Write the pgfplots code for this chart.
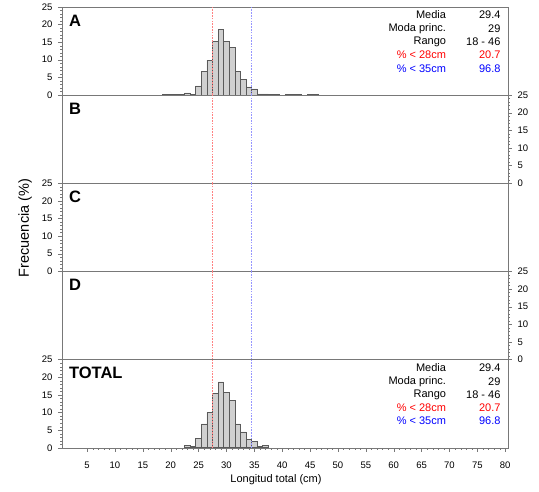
\documentclass[border=0pt]{standalone}
\usepackage{fontspec}
\setmainfont{Liberation Sans}
\usepackage{pgfplots}
\pgfplotsset{compat=1.18}
\definecolor{axgray}{RGB}{120,120,120}
\definecolor{barfill}{RGB}{208,208,208}
\definecolor{baredge}{RGB}{90,90,90}
\definecolor{lred}{RGB}{255,130,130}
\definecolor{lblue}{RGB}{150,150,255}

\pgfplotsset{
  panel/.style={
    scale only axis, width=446pt, height=88.2pt,
    xmin=0.5, xmax=80.5, ymin=0, ymax=25,
    axis line style={draw=axgray},
    tick style={draw=axgray},
    ytick={0,5,...,25}, minor y tick num=4,
    tick align=outside, major tick length=4pt, minor tick length=2pt,
    xtick=\empty,
    /pgf/number format/assume math mode=true,
    ticklabel style={font=\fontsize{9.5}{11}\selectfont},
    clip=false,
  },
  leftp/.style={ytick pos=left, yticklabel pos=left, yticklabel style={xshift=-2pt}},
  rightp/.style={ytick pos=right, yticklabel pos=right, yticklabel style={xshift=2pt}},
  bars/.style={ybar, bar width=1, bar shift=0pt, fill=barfill, draw=baredge, line width=0.6pt},
  cut/.style={dash pattern=on 1.6pt off 1.2pt, line width=0.8pt},
}
\tikzset{st/.style={anchor=east, font=\fontsize{11}{13}\selectfont}}
\newcommand{\paneltag}[1]{\node[anchor=west, font=\fontsize{16.5}{18}\selectfont\bfseries] at (rel axis cs:0.008,0.845) {#1};}
\newcommand{\cuts}{%
  \addplot[cut, lred] coordinates {(27.5,0) (27.5,25)};
  \addplot[cut, lblue] coordinates {(34.5,0) (34.5,25)};
}
\newcommand{\stats}{%
  \node[st] at (rel axis cs:0.869,0.907) {Media};
  \node[st] at (rel axis cs:0.991,0.907) {29.4};
  \node[st] at (rel axis cs:0.869,0.752) {Moda princ.};
  \node[st] at (rel axis cs:0.991,0.752) {29};
  \node[st] at (rel axis cs:0.869,0.603) {Rango};
  \node[st] at (rel axis cs:0.991,0.603) {18 - 46};
  \node[st, text=red] at (rel axis cs:0.869,0.454) {\% < 28cm};
  \node[st, text=red] at (rel axis cs:0.991,0.454) {20.7};
  \node[st, text=blue] at (rel axis cs:0.869,0.303) {\% < 35cm};
  \node[st, text=blue] at (rel axis cs:0.991,0.303) {96.8};
}

\pgfplotstableread{
x y
19 0.08
20 0.08
21 0.08
22 0.08
23 0.6
24 0.2
25 2.6
26 6.8
27 9.9
28 15.3
29 18.5
30 15.3
31 13.4
32 6.8
33 4.5
34 2.3
35 1.7
36 0.3
37 0.3
38 0.08
39 0.08
41 0.08
42 0.08
43 0.08
45 0.08
46 0.08
}\dataA

\pgfplotstableread{
x y
23 0.7
24 0.3
25 2.7
26 6.8
27 10.0
28 15.4
29 18.7
30 15.6
31 13.5
32 6.8
33 4.5
34 2.4
35 1.8
36 0.3
37 0.6
}\dataT

\begin{document}
\begin{tikzpicture}[x=1pt,y=1pt]
\useasboundingbox (0,0) rectangle (539,492);

% A
\begin{axis}[panel, leftp, at={(62pt,397pt)}, anchor=south west]
  \addplot[bars] table[x=x,y=y] {\dataA};
  \cuts
  \paneltag{A}
  \stats
\end{axis}

% B
\begin{axis}[panel, rightp, at={(62pt,308.8pt)}, anchor=south west]
  \cuts
  \paneltag{B}
\end{axis}

% C
\begin{axis}[panel, leftp, at={(62pt,220.6pt)}, anchor=south west]
  \cuts
  \paneltag{C}
\end{axis}

% D
\begin{axis}[panel, rightp, at={(62pt,132.4pt)}, anchor=south west]
  \cuts
  \paneltag{D}
\end{axis}

% TOTAL
\begin{axis}[panel, leftp, at={(62pt,44.2pt)}, anchor=south west,
    xtick={5,10,...,80}, minor x tick num=4, xtick pos=bottom,
    xticklabel style={yshift=-7pt}]
  \addplot[bars] table[x=x,y=y] {\dataT};
  \cuts
  \paneltag{TOTAL}
  \stats
\end{axis}

\node[font=\fontsize{11}{13}\selectfont] at (276,12) {Longitud total (cm)};
\node[font=\fontsize{14.5}{16}\selectfont, rotate=90] at (25,264) {Frecuencia (\%)};
\end{tikzpicture}
\end{document}
